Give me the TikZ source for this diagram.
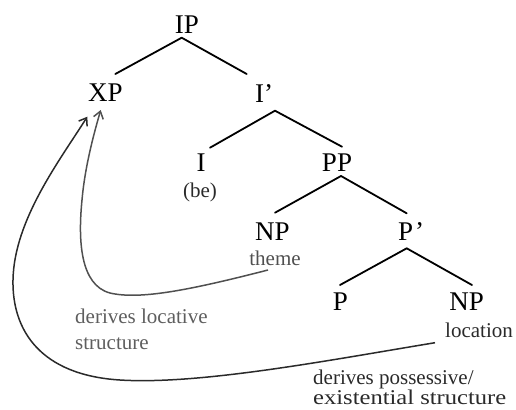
\documentclass[tikz,border=0pt]{standalone}
\usepackage{fontspec}
\setmainfont{Liberation Serif}
\usetikzlibrary{calc,arrows.meta}

\definecolor{themegray}{HTML}{505050}
\definecolor{notegray}{HTML}{5E5E5E}
\definecolor{darknote}{HTML}{2A2A2A}

\tikzset{
  cat/.style={anchor=base, inner sep=0pt, font=\fontsize{27bp}{32bp}\selectfont},
  role/.style={anchor=base, inner sep=0pt, font=\fontsize{21bp}{25bp}\selectfont},
  note/.style={anchor=base west, inner sep=0pt, font=\fontsize{21bp}{25bp}\selectfont},
  edge/.style={line width=1.8bp, line cap=round},
  move/.style={line width=1.5bp, -{Straight Barb[length=7bp,width=10bp,line width=1.5bp]}}
}

\begin{document}
\begin{tikzpicture}[x=1bp, y=-1bp]
  \useasboundingbox (0,0) rectangle (516,409);

  % tree categories
  \node[cat] (ip)   at (187,33)    {IP};
  \node[cat] (xp)   at (105.5,101.7) {XP};
  \node[cat] (ibar) at (264,102)   {I’};
  \node[cat] (i)    at (201,171.7) {I};
  \node[role, text=darknote] (be) at (200,197) {(be)};
  \node[cat] (pp)   at (337,171.7) {PP};
  \node[cat] (np1)  at (272.5,240.7) {NP};
  \node[role, text=themegray] (theme) at (275,265) {theme};
  \node[cat] (pbar) at (411,240.7) {P\kern2bp’};
  \node[cat] (p)    at (340.5,310) {P};
  \node[cat] (np2)  at (466.7,310) {NP};
  \node[role, text=darknote] (loc) at (479,337.5) {location};

  % branches
  \draw[edge] ($(ip.base)+(-5.3,4.7)$) -- ($(xp.base)+(9.8,-27.7)$);
  \draw[edge] ($(ip.base)+(-5.3,4.7)$) -- ($(ibar.base)+(-17.3,-28)$);
  \draw[edge] ($(ibar.base)+(11,8.7)$) -- ($(i.base)+(9,-24)$);
  \draw[edge] ($(ibar.base)+(11,8.7)$) -- ($(pp.base)+(5,-25)$);
  \draw[edge] ($(pp.base)+(4,4.3)$) -- ($(np1.base)+(2.5,-28)$);
  \draw[edge] ($(pp.base)+(4,4.3)$) -- ($(pbar.base)+(-4.3,-27.4)$);
  \draw[edge] ($(pbar.base)+(-4.3,7.6)$) -- ($(p.base)+(-0.5,-25)$);
  \draw[edge] ($(pbar.base)+(-4.3,7.6)$) -- ($(np2.base)+(5.3,-25)$);

  % movement of the theme NP
  \coordinate (tstart) at ($(theme.base)+(-7,5)$);
  \coordinate (ttip)   at ($(xp.base)+(-4.8,8.3)$);
  \draw[move, themegray] (tstart)
    .. controls (190,290) and (140,300) .. (110,293)
    .. controls (80,285) and (78,240) .. (82,200)
    .. controls (85,165) and (95,130) .. (ttip);

  % movement of the location NP
  \coordinate (lstart) at ($(loc.base)+(-44,5.2)$);
  \coordinate (ltip)   at ($(xp.base)+(-18.2,15)$);
  \draw[move, darknote] (lstart)
    .. controls (330,360) and (200,385) .. (120,380)
    .. controls (40,375) and (12,330) .. (13,280)
    .. controls (14,220) and (60,160) .. (ltip);

  % notes on the two derivations
  \node[note, text=notegray] (loc1) at (75,323) {derives locative};
  \node[note, text=notegray] (loc2) at (75,349) {structure};
  \node[note, text=darknote] (pos1) at (313,384) {derives possessive/};
  \node[note, text=darknote] (pos2) at (313,404) {\scalebox{1.17}[1]{existential structure}};
\end{tikzpicture}
\end{document}
